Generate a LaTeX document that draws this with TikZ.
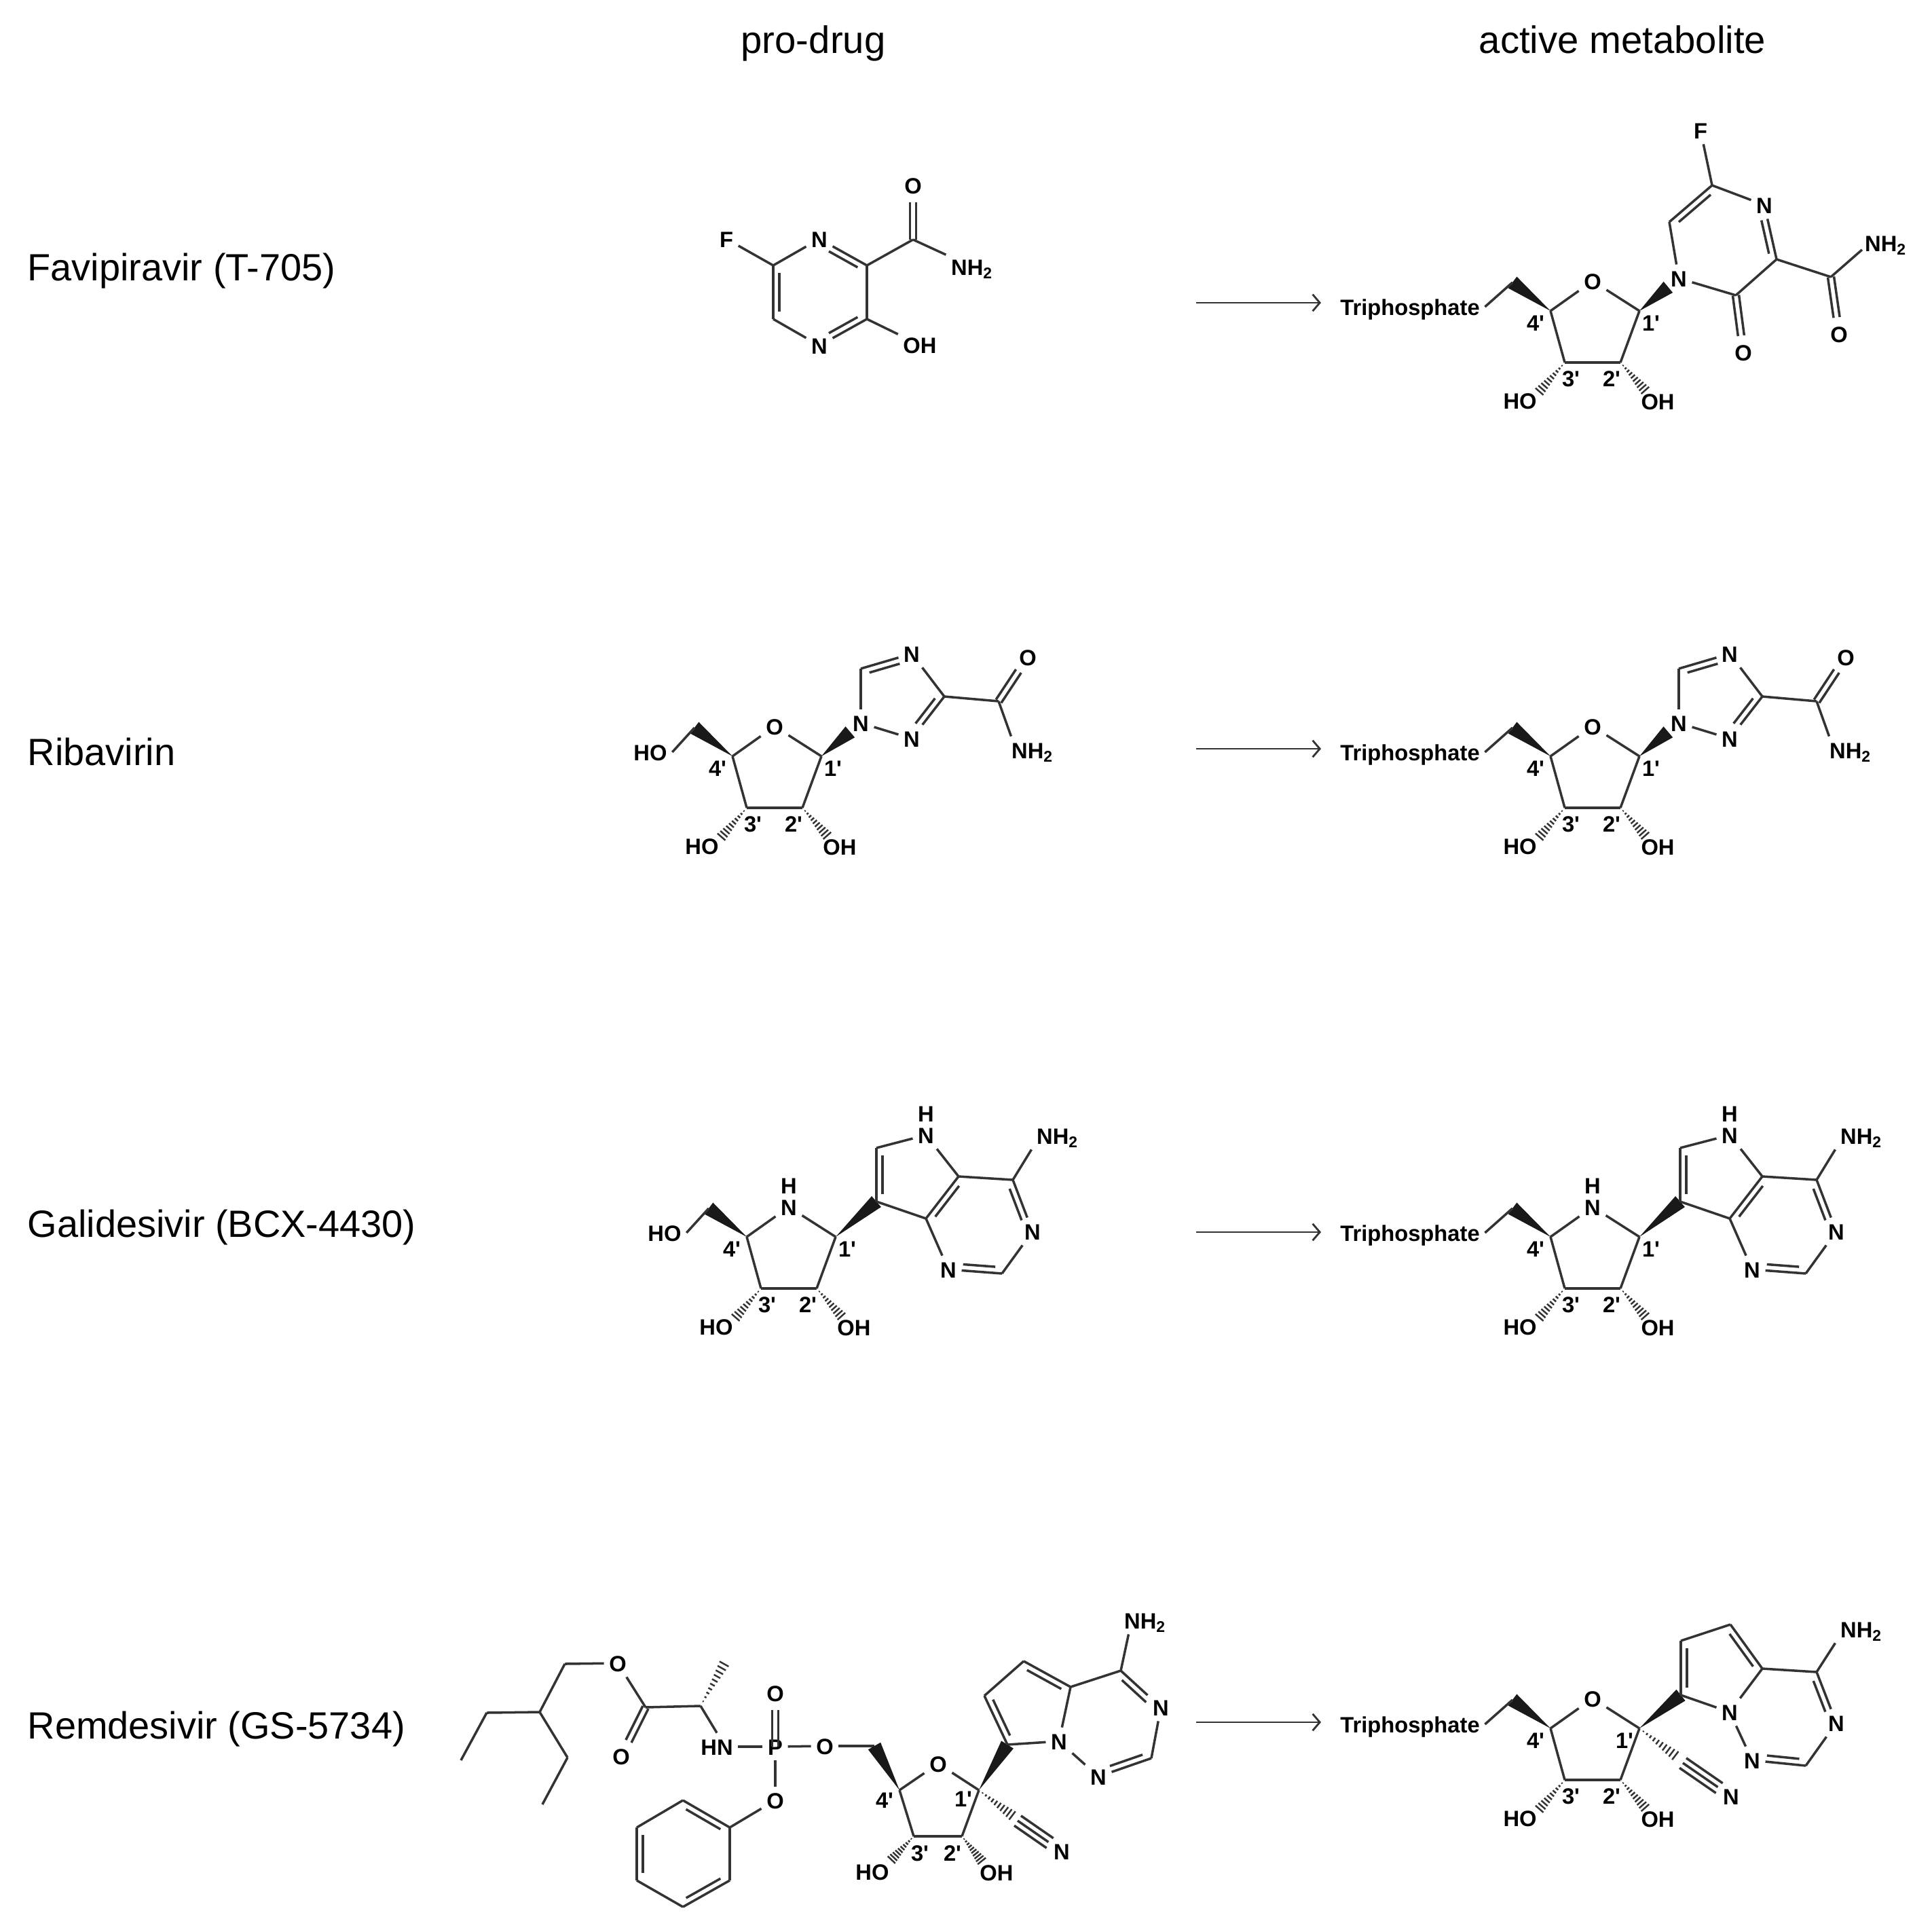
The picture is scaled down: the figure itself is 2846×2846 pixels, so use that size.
\documentclass[tikz,border=0pt]{standalone}
\usepackage{fontspec}
\setmainfont{Liberation Sans}
\usetikzlibrary{calc,arrows.meta}
\definecolor{bondgray}{gray}{0.2}
\tikzset{
	bond/.style={draw=bondgray, line width=1pt},
	atom/.style={font=\fontsize{9.3}{11}\selectfont\bfseries, inner sep=2pt, text height=0.72em, text depth=0pt},
	tag/.style={font=\fontsize{9.3}{11}\selectfont\bfseries, inner sep=0},
	rowname/.style={font=\fontsize{15.9}{19}\selectfont, anchor=base west, inner sep=0},
	heading/.style={font=\fontsize{16}{19}\selectfont, anchor=base, inner sep=0},
	turn/.style={draw=bondgray, line width=0.8pt, -{Straight Barb[length=3pt,width=7pt]}}
}
\newcommand{\pr}{\textquotesingle}
\newcommand{\wedgebond}[2]{\fill[bondgray!50!black] (#1) -- ($(#2)!3pt!90:(#1)$) -- ($(#2)!3pt!-90:(#1)$) -- cycle;}
\newcommand{\hashbond}[2]{\foreach \pos in {0.1,0.19,...,0.93}{\draw[draw=bondgray, line width=0.7pt] ($(#1)!\pos!(#2)!\pos*2.4pt!90:(#2)$) -- ($(#1)!\pos!(#2)!\pos*2.4pt!-90:(#2)$);}}
\newcommand{\dblbond}[5]{\draw[bond] (#1) -- (#2); \draw[bond, shorten <=#4, shorten >=#5] ($(#1)!#3!90:(#2)$) -- ($(#2)!#3!-90:(#1)$);}
\newcommand{\eqbond}[2]{\draw[bond, shorten >=7pt] ($(#1)!1.3pt!90:(#2)$) -- ($(#2)!1.3pt!-90:(#1)$); \draw[bond, shorten >=7pt] ($(#1)!1.3pt!-90:(#2)$) -- ($(#2)!1.3pt!90:(#1)$);}
\newcommand{\tplbond}[2]{\draw[bond] (#1) -- (#2); \draw[bond, shorten >=6pt] ($(#1)!2.5pt!90:(#2)$) -- ($(#2)!2.5pt!-90:(#1)$); \draw[bond, shorten >=6pt] ($(#1)!2.5pt!-90:(#2)$) -- ($(#2)!2.5pt!90:(#1)$);}
% five-membered ring, origin at 4', #2 = x of the 1' tag
\newcommand{\sugarring}[2]{
	\foreach \n/\x/\y in {c4/0/0,c1/131/0,c3/21/76,c2/103/76,c5/-56/-42,h3/-20/123,h2/143/121}
		{
			\coordinate (\n) at (\x,\y);
		}
	\node[atom] (o) at (62,-44){#1};
	\node[atom] (ho) at (-45,132){HO};
	\node[atom] (oh) at (158,133){OH};
	\foreach \n/\x/\y/\lab in {l4/-22/18/4,l1/#2/18/1,l3/30/100/3,l2/90/100/2}
		{
			\node[tag] (\n) at (\x,\y){\lab\pr};
		}
	\foreach \p/\q in {c4/o,o/c1,c1/c2,c2/c3,c3/c4}
		{
			\draw[bond] (\p) -- (\q);
		}
	\wedgebond{c4}{c5}
	\hashbond{c3}{h3}
	\hashbond{c2}{h2}
}
\newcommand{\triphos}{
	\node[atom] (tp) at (-207,-6){Triphosphate};
	\draw[bond] (c5) -- (tp.east);
}
\newcommand{\hydroxy}{
	\node[atom] (hm) at (-121,-6){HO};
	\draw[bond] (c5) -- (hm.east);
}
\newcommand{\triazole}{
	\foreach \n/\x/\y/\lab in {n1/189/-49/N,n2/264/-26/N,n4/264/-151/N,od/435/-146/O}
		{
			\node[atom] (\n) at (\x,\y){\lab};
		}
	\node[atom] (nh) at (442,-9){NH\textsubscript{2}};
	\foreach \n/\x/\y in {c5r/312/-88,c3r/189/-129,ca/392/-81}
		{
			\coordinate (\n) at (\x,\y);
		}
	\coordinate (w1) at ($(c1)!0.73!(n1)$);
	\wedgebond{c1}{w1}
	\foreach \p/\q in {n1/c3r,n4/c5r,n2/n1,c5r/ca}
		{
			\draw[bond] (\p) -- (\q);
		}
	\dblbond{c3r}{n4}{-2.6pt}{3pt}{6pt}
	\dblbond{c5r}{n2}{-2.6pt}{3pt}{6pt}
	\eqbond{ca}{od}
	\draw[bond] (ca) -- ([xshift=2pt]nh.north west);
}
\newcommand{\pyrrolo}{
	\foreach \n/\x/\y/\lab in {n9/264/-150/N,h9/264/-182/H,n3/421/-8/N,n1/297/48/N}
		{
			\node[atom] (\n) at (\x,\y){\lab};
		}
	\node[atom] (nh) at (458,-149){NH\textsubscript{2}};
	\foreach \n/\x/\y in {c7/191/-52,c6/191/-131,c4a/312/-89,c8a/264/-27,c4r/392/-84,c2r/376/54}
		{
			\coordinate (\n) at (\x,\y);
		}
	\wedgebond{c1}{c7}
	\foreach \p/\q in {c6/n9,n9/c4a,c8a/c7,c4a/c4r,n3/c2r,n1/c8a,c4r/nh.south west}
		{
			\draw[bond] (\p) -- (\q);
		}
	\dblbond{c7}{c6}{-2.6pt}{3pt}{3pt}
	\dblbond{c4a}{c8a}{2.6pt}{3pt}{3pt}
	\dblbond{c4r}{n3}{-2.6pt}{3pt}{6pt}
	\dblbond{c2r}{n1}{-2.6pt}{3pt}{6pt}
}
\begin{document}
\begin{tikzpicture}[x=0.01cm, y=-0.01cm]
	\useasboundingbox (0,0) rectangle (2846,2846);
	\node[heading] (pro) at (1198,79){pro-drug};
	\node[heading] (act) at (2390,79){active metabolite};
	\foreach \n/\y/\lab in {fav/414/Favipiravir (T-705),rib/1127/Ribavirin,gal/1822/Galidesivir (BCX-4430),rem/2561/Remdesivir (GS-5734)}
		{
			\node[rowname] (\n) at (40,\y){\lab};
		}
	\foreach \n/\y in {fav/446,rib/1103,gal/1815,rem/2537}
		{
			\coordinate (\n-a) at (1762,\y);
			\coordinate (\n-b) at (1946,\y);
			\draw[turn] (\n-a) -- (\n-b);
		}

	% favipiravir
	\begin{scope}[name prefix=fp-]
		\foreach \n/\x/\y/\lab in {f/1070/352/F,n1/1207/352/N,n4/1207/509/N,od/1345/273/O}
			{
				\node[atom] (\n) at (\x,\y){\lab};
			}
		\node[atom] (nh) at (1432,393){NH\textsubscript{2}};
		\node[atom] (oh) at (1355,508){OH};
		\foreach \n/\x/\y in {c6/1139/391,c2/1277/391,c3/1277/470,c5/1139/470,ca/1345/353}
			{
				\coordinate (\n) at (\x,\y);
			}
		\foreach \p/\q in {f/c6,c6/n1,c2/c3,n4/c5,c2/ca,ca/nh,c3/oh}
			{
				\draw[bond] (\p) -- (\q);
			}
		\dblbond{n1}{c2}{-2.6pt}{6pt}{3pt}
		\dblbond{c3}{n4}{-2.6pt}{3pt}{6pt}
		\dblbond{c5}{c6}{-2.6pt}{3pt}{3pt}
		\eqbond{ca}{od}
	\end{scope}
	\begin{scope}[shift={(2284,458)}, name prefix=fa-]
		\sugarring{O}{148}
		\triphos
		\foreach \n/\x/\y/\lab in {f/221/-266/F,n1/315/-156/N,n4/189/-48/N,od/284/61/O,oe/425/34/O}
			{
				\node[atom] (\n) at (\x,\y){\lab};
			}
		\node[atom] (nh) at (494,-100){NH\textsubscript{2}};
		\foreach \n/\x/\y in {c5r/175/-131,c6/238/-185,c2r/333/-76,c3r/273/-23,ca/413/-50}
			{
				\coordinate (\n) at (\x,\y);
			}
		\coordinate (w1) at ($(c1)!0.73!(n4)$);
		\wedgebond{c1}{w1}
		\foreach \p/\q in {f/c6,c6/n1,c3r/c2r,c3r/n4,n4/c5r,c2r/ca}
			{
				\draw[bond] (\p) -- (\q);
			}
		\dblbond{c5r}{c6}{-2.6pt}{3pt}{3pt}
		\dblbond{n1}{c2r}{-2.6pt}{6pt}{3pt}
		\eqbond{c3r}{od}
		\eqbond{ca}{oe}
		\draw[bond] (ca) -- ([xshift=1pt,yshift=3pt]nh.south west);
	\end{scope}

	% ribavirin
	\begin{scope}[shift={(1079,1114)}, name prefix=rp-]
		\sugarring{O}{148}
		\hydroxy
		\triazole
	\end{scope}
	\begin{scope}[shift={(2284,1114)}, name prefix=ra-]
		\sugarring{O}{148}
		\triphos
		\triazole
	\end{scope}

	% galidesivir
	\begin{scope}[shift={(1100,1822)}, name prefix=gp-]
		\sugarring{N}{148}
		\node[atom] (h) at (62,-76){H};
		\hydroxy
		\pyrrolo
	\end{scope}
	\begin{scope}[shift={(2284,1822)}, name prefix=ga-]
		\sugarring{N}{148}
		\node[atom] (h) at (62,-76){H};
		\triphos
		\pyrrolo
	\end{scope}

	% remdesivir
	\begin{scope}[name prefix=dp-]
		\foreach \n/\x/\y/\lab in {oe/910/2450/O,oq/915/2587/O,p/1142/2573/P,op/1142/2494/O,or/1215/2572/O,ob/1142/2652/O,o/1382/2598/O,n8/1560/2565/N,n2/1618/2617/N,n3/1710/2515/N,ncn/1564/2727/N}
			{
				\node[atom] (\n) at (\x,\y){\lab};
			}
		\node[atom] (hn) at (1056,2573){HN};
		\node[atom] (ho) at (1285,2757){HO};
		\node[atom] (oh) at (1468,2758){OH};
		\node[atom] (nh) at (1687,2387){NH\textsubscript{2}};
		\foreach \n/\x/\y/\lab in {l4/1303/2652/4,l1/1419/2650/1,l3/1355/2730/3,l2/1403/2730/2}
			{
				\node[tag] (\n) at (\x,\y){\lab\pr};
			}
		\foreach \n/\x/\y in {e1/679/2593,e2/717/2523,ch/795/2522,e3/832/2451,e4/836/2589,e5/799/2658,cq/951/2515,ca/1032/2513,me/1070/2445,c5/1288/2572,c4/1325/2637,c1/1442/2637,c3/1346/2705,c2/1417/2705,h3/1310/2743,h2/1449/2745,c7/1484/2570,c6/1450/2498,c5r/1508/2447,c4a/1577/2485,c4r/1651/2461,c2r/1696/2590,q1/1496/2678,q2/1499/2682,b1/1075/2692,b2/1006/2652,b3/938/2692,b4/938/2770,b5/1006/2809,b6/1075/2770}
			{
				\coordinate (\n) at (\x,\y);
			}
		\foreach \p/\q in {e1/e2,e2/ch,ch/e3,ch/e4,e4/e5,e3/oe,oe/cq,cq/ca,ca/hn.north,hn/p,p/or,or/c5,p/ob,ob/b1,c4/o,o/c1,c1/c2,c2/c3,c3/c4,c6/c5r,c4a/n8,n8/c7,c4a/c4r,n3/c2r,n2/n8,b1/b6,b5/b4,b3/b2}
			{
				\draw[bond] (\p) -- (\q);
			}
		\draw[bond] (c4r) -- ([xshift=4pt]nh.south west);
		\eqbond{cq}{oq}
		\eqbond{p}{op}
		\hashbond{ca}{me}
		\wedgebond{c4}{c5}
		\wedgebond{c1}{c7}
		\hashbond{c3}{h3}
		\hashbond{c2}{h2}
		\hashbond{c1}{q1}
		\tplbond{q2}{ncn}
		\dblbond{c7}{c6}{-2.6pt}{3pt}{3pt}
		\dblbond{c5r}{c4a}{-2.6pt}{3pt}{3pt}
		\dblbond{c4r}{n3}{-2.6pt}{3pt}{6pt}
		\dblbond{c2r}{n2}{-2.6pt}{3pt}{6pt}
		\dblbond{b2}{b1}{-2.6pt}{3pt}{3pt}
		\dblbond{b4}{b3}{-2.6pt}{3pt}{3pt}
		\dblbond{b6}{b5}{-2.6pt}{3pt}{3pt}
	\end{scope}
	\begin{scope}[shift={(2284,2546)}, name prefix=da-]
		\sugarring{O}{109}
		\triphos
		\foreach \n/\x/\y/\lab in {n8/264/-24/N,n2/297/47/N,n3/421/-8/N,ncn/266/100/N}
			{
				\node[atom] (\n) at (\x,\y){\lab};
			}
		\node[atom] (nh) at (458,-146){NH\textsubscript{2}};
		\foreach \n/\x/\y in {c7/192/-49,c6/192/-129,c5r/265/-153,c4a/312/-88,c4r/392/-83,c2r/376/55,q1/189/44,q2/195/51}
			{
				\coordinate (\n) at (\x,\y);
			}
		\wedgebond{c1}{c7}
		\foreach \p/\q in {c6/c5r,c4a/n8,n8/c7,c4a/c4r,n3/c2r,n2/n8,c4r/nh.south west}
			{
				\draw[bond] (\p) -- (\q);
			}
		\hashbond{c1}{q1}
		\tplbond{q2}{ncn}
		\dblbond{c7}{c6}{-2.6pt}{3pt}{3pt}
		\dblbond{c5r}{c4a}{-2.6pt}{3pt}{3pt}
		\dblbond{c4r}{n3}{-2.6pt}{3pt}{6pt}
		\dblbond{c2r}{n2}{-2.6pt}{3pt}{6pt}
	\end{scope}
\end{tikzpicture}
\end{document}
